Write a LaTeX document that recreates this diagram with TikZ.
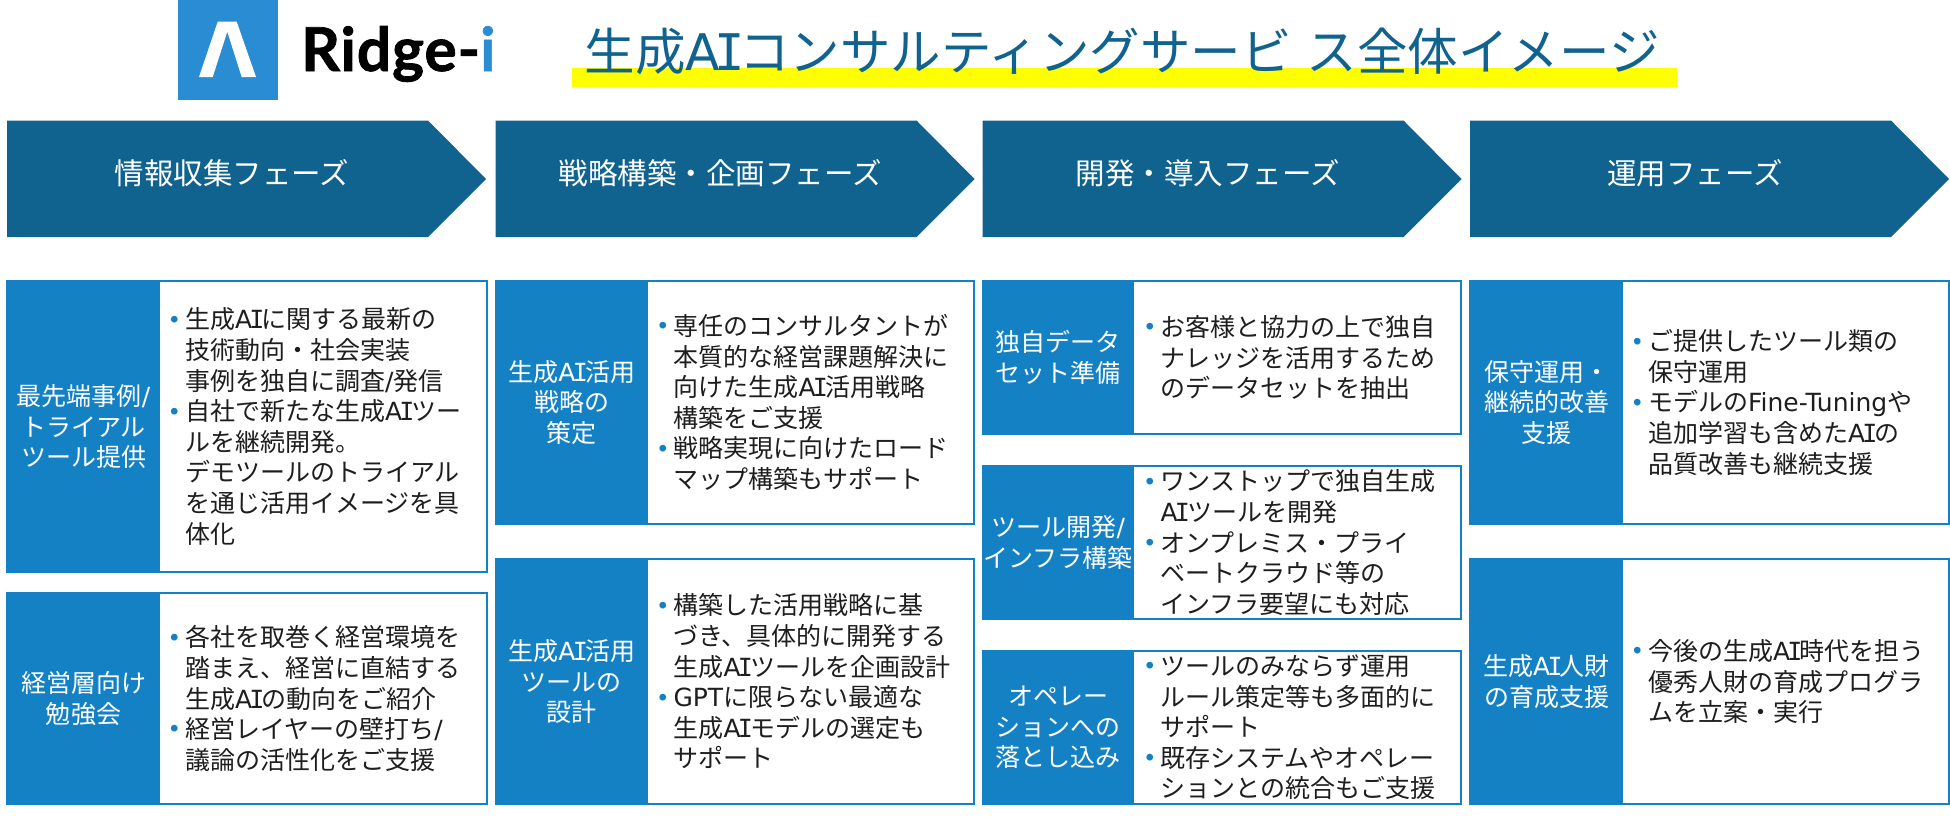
\documentclass[tikz,border=0pt]{standalone}
\usepackage{fontspec}
\setmainfont{Noto Sans CJK JP}
\newfontfamily\logofont[LetterSpace=1.5,BoldFeatures={FakeBold=1.2}]{Lato}
\newfontfamily\lat{DejaVu Sans}
\newfontfamily\latmono{DejaVu Sans Mono}
\definecolor{headblue}{HTML}{10628F}
\definecolor{labblue}{HTML}{1581C5}
\definecolor{logoblue}{HTML}{2A8DD4}
\definecolor{bodyink}{HTML}{1E1E1E}
\definecolor{hiyellow}{HTML}{FFFF00}
\newcommand{\fsz}[2]{\fontsize{#1}{#2}\selectfont}
\newcommand{\AI}{{\lat A}{\latmono\kern-0.11em I\kern-0.11em}}
\newcommand{\sla}{{\lat /}}
\newcommand{\bul}{\leavevmode\llap{\textcolor{labblue}{\raisebox{6.7pt}{\fsz{7.5}{7.5}●}}\hspace{7pt}}}
\tikzset{
  cardbox/.style={draw=labblue,line width=2pt,fill=white,anchor=north west,inner sep=0pt,outer sep=0pt},
  cardlabel/.style={fill=labblue,text=white,anchor=north west,inner sep=0pt,outer sep=0pt,align=center,font=\fsz{25}{30.6}},
  cardtext/.style={text=bodyink,anchor=west,inner sep=0pt,outer sep=0pt,align=left,font=\fsz{25}{30.6}},
  headtext/.style={text=white,inner sep=0pt,font=\fsz{29.5}{34}},
}
\newcommand{\card}[8]{%
  \pgfmathsetmacro\cw{#4-#2}\pgfmathsetmacro\ch{#6-#5}\pgfmathsetmacro\lw{#3-#2}\pgfmathsetmacro\tx{#2+178}\pgfmathsetmacro\ty{(#5+#6)/2}
  \node[cardbox,minimum width=\cw pt,minimum height=\ch pt] (#1) at (#2,#5) {};
  \node[cardlabel,minimum width=\lw pt,minimum height=\ch pt,text width=\lw pt] (#1-l) at (#2,#5) {#7};
  \node[cardtext] (#1-t) at (\tx,\ty) {#8};
}
\newcommand{\phase}[3]{%
  \pgfmathsetmacro\xa{#1+421}\pgfmathsetmacro\xb{#1+479}\pgfmathsetmacro\xt{#1+225}
  \fill[headblue] (#1,120.5) -- (\xa,120.5) -- (\xb,179) -- (\xa,237) -- (#1,237) -- cycle;
  \node[headtext] (#2) at (\xt,173) {#3};
}
\begin{document}
\begin{tikzpicture}[x=1pt,y=-1pt]
\useasboundingbox (0,0) rectangle (1950,819);
% logo
\fill[logoblue] (177.5,0) rectangle (278,100);
\fill[white] (217.7,21.7) -- (236.7,21.7) -- (256,77) -- (241.7,77) -- (227.3,31.7) -- (212.7,77) -- (199,77) -- cycle;
\node[anchor=base west,inner sep=0pt,font=\logofont\bfseries\fsz{60.5}{62}] (logo) at (301,71) {Ridge-\textcolor{logoblue}{i}};
% title
\fill[hiyellow] (571.5,67.5) rectangle (1677,87);
\node[text=headblue,inner sep=0pt,anchor=base,font=\fsz{50.5}{56}] (title) at (1122,70) {生成\AI コンサルティングサービ\hspace{0.3em}ス全体イメージ};
% phases
\phase{7}{p1}{情報収集フェーズ}
\phase{495.5}{p2}{戦略構築・企画フェーズ}
\phase{982.5}{p3}{開発・導入フェーズ}
\phase{1470}{p4}{運用フェーズ}
% column 1
\card{a1}{7}{160}{487}{281}{572}{最先端事例\sla\\トライアル\\ツール提供}{\bul 生成\AI に関する最新の\\技術動向・社会実装\\事例を独自に調査\sla 発信\\\bul 自社で新たな生成\AI ツー\\ルを継続開発。\\デモツールのトライアル\\を通じ活用イメージを具\\体化}
\card{a2}{7}{160}{487}{593}{804}{経営層向け\\勉強会}{\bul 各社を取巻く経営環境を\\踏まえ、経営に直結する\\生成\AI の動向をご紹介\\\bul 経営レイヤーの壁打ち\sla\\議論の活性化をご支援}
% column 2
\card{b1}{495.5}{648}{974}{281}{524}{生成\AI 活用\\戦略の\\策定}{\bul 専任のコンサルタントが\\本質的な経営課題解決に\\向けた生成\AI 活用戦略\\構築をご支援\\\bul 戦略実現に向けたロード\\マップ構築もサポート}
\card{b2}{495.5}{648}{974}{559}{804}{生成\AI 活用\\ツールの\\設計}{\bul 構築した活用戦略に基\\づき、具体的に開発する\\生成\AI ツールを企画設計\\\bul {\lat GPT}に限らない最適な\\生成\AI モデルの選定も\\サポート}
% column 3
\card{c1}{982.5}{1134}{1461}{281}{434}{独自データ\\セット準備}{\bul お客様と協力の上で独自\\ナレッジを活用するため\\のデータセットを抽出}
\card{c2}{982.5}{1134}{1461}{466}{619}{ツール開発\sla\\インフラ構築}{\bul ワンストップで独自生成\\\AI ツールを開発\\\bul オンプレミス・プライ\\ベートクラウド等の\\インフラ要望にも対応}
\card{c3}{982.5}{1134}{1461}{651}{804}{オペレー\\ションへの\\落とし込み}{\bul ツールのみならず運用\\ルール策定等も多面的に\\サポート\\\bul 既存システムやオペレー\\ションとの統合もご支援}
% column 4
\card{d1}{1470}{1623}{1949}{281}{524}{保守運用・\\継続的改善\\支援}{\bul ご提供したツール類の\\保守運用\\\bul モデルの{\lat Fine-Tuning}や\\追加学習も含めた\AI の\\品質改善も継続支援}
\card{d2}{1470}{1623}{1949}{559}{804}{生成\AI 人財\\の育成支援}{\bul 今後の生成\AI 時代を担う\\優秀人財の育成プログラ\\ムを立案・実行}
\end{tikzpicture}
\end{document}
